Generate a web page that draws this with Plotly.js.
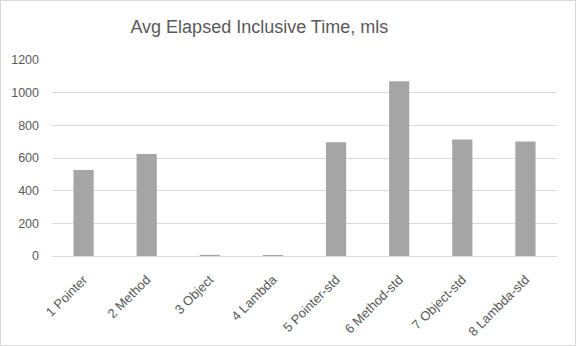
<!DOCTYPE html>
<html>
<head>
<meta charset="utf-8">
<script src="https://cdn.plot.ly/plotly-3.0.1.min.js"></script>
<style>
html,body{margin:0;padding:0;background:#fff;}
#wrap{width:576px;height:346px;box-sizing:border-box;border:1px solid #d9d9d9;overflow:hidden;}
#chart{width:574px;height:344px;}
</style>
</head>
<body>
<div id="wrap"><div id="chart"></div></div>
<script>
const categories = ["1 Pointer","2 Method","3 Object","4 Lambda","5 Pointer-std","6 Method-std","7 Object-std","8 Lambda-std"];
const values = [526, 624, 7, 6, 697, 1070, 714, 701];
const yTicks = [0,200,400,600,800,1000,1200];

const trace = {
  type: 'bar',
  x: categories,
  y: values,
  marker: {color: '#a5a5a5'},
  hoverinfo: 'x+y'
};

const layout = {
  width: 574, height: 344,
  margin: {l: 51, r: 18, t: 59, b: 89},
  paper_bgcolor: '#ffffff',
  plot_bgcolor: '#ffffff',
  bargap: 0.68,
  showlegend: false,
  font: {family: 'Liberation Sans, Arial, sans-serif', color: '#595959', size: 12},
  title: {
    text: 'Avg Elapsed Inclusive Time, mls',
    font: {family: 'Liberation Sans, Arial, sans-serif', size: 18, color: '#595959'},
    x: 0.45, xanchor: 'center', y: 0.925, yanchor: 'middle'
  },
  xaxis: {
    type: 'category',
    tickangle: -45,
    showgrid: false,
    showline: true,
    linecolor: '#d9d9d9',
    linewidth: 1,
    ticks: '',
    ticklabelstandoff: 10,
    tickfont: {size: 13, color: '#595959'},
    fixedrange: true
  },
  yaxis: {
    range: [0, 1200],
    tickvals: yTicks,
    ticktext: yTicks.map(String),
    showgrid: true,
    gridcolor: '#d9d9d9',
    gridwidth: 1,
    zeroline: false,
    showline: false,
    ticks: '',
    ticklabelstandoff: 12,
    tickfont: {size: 12.5, color: '#595959'},
    fixedrange: true
  }
};

Plotly.newPlot('chart', [trace], layout, {displayModeBar: false, staticPlot: true});
</script>
</body>
</html>
